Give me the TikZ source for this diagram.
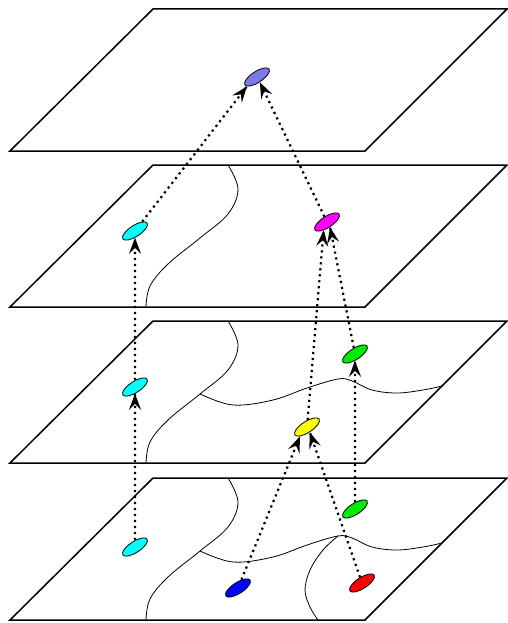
\documentclass[tikz,border=0pt]{standalone}
\usetikzlibrary{shapes.geometric,arrows.meta,decorations.markings}
\definecolor{violetblob}{RGB}{122,122,230}
\definecolor{greenblob}{RGB}{0,235,0}
\definecolor{cyanblob}{RGB}{0,255,255}
\definecolor{magentablob}{RGB}{255,0,255}
\definecolor{yellowblob}{RGB}{255,255,0}
\definecolor{blueblob}{RGB}{0,0,255}
\definecolor{redblob}{RGB}{255,0,0}
\tikzset{
  plane/.style={draw, line width=1.5pt, line join=miter},
  region/.style={draw, line width=0.8pt},
  blob/.style={ellipse, draw, line width=0.8pt, minimum width=29pt, minimum height=11pt, inner sep=0pt, rotate=33},
  link/.style={line width=2.2pt, dash pattern=on 2.2pt off 3.8pt,
    postaction={solid, decorate, decoration={markings,
      mark=at position 1 with {\arrow{Stealth[length=16pt,width=12pt,inset=6pt]}}}}}
}
\begin{document}
\begin{tikzpicture}[x=1pt,y=-1pt]
\useasboundingbox (0,0) rectangle (508,623);
% planes
\foreach \dy in {0,156,312,469}{
  \begin{scope}[shift={(0,\dy)}]
    \draw[plane] (10,151) -- (365,151) -- (507,9) -- (153,9) -- cycle;
  \end{scope}
}
% region boundaries
\foreach \dy in {156,312,469}{
  \begin{scope}[shift={(0,\dy)}]
    \draw[region] plot[smooth, tension=0.6] coordinates {(228,9) (238,33) (228,58) (200,82) (168,108) (150,130) (146,151)};
  \end{scope}
}
\foreach \dy in {312,469}{
  \begin{scope}[shift={(0,\dy)}]
    \draw[region] plot[smooth, tension=0.6] coordinates {(200,82) (233,93) (273,88) (307,76) (338,67) (352,69) (372,78) (397,81) (423,78) (442,74)};
  \end{scope}
}
\begin{scope}[shift={(0,469)}]
  \draw[region] plot[smooth, tension=0.6] coordinates {(338,67) (323,81) (310,101) (305,121) (310,138) (318,151)};
\end{scope}
% blobs
\node[blob, fill=violetblob] (v) at (257,77) {};
\node[blob, fill=cyanblob] (c2) at (135,231) {};
\node[blob, fill=magentablob] (m2) at (327,222) {};
\node[blob, fill=cyanblob] (c3) at (135,387) {};
\node[blob, fill=greenblob] (g3) at (355,354) {};
\node[blob, fill=yellowblob] (y3) at (307,427) {};
\node[blob, fill=cyanblob] (c4) at (135,547) {};
\node[blob, fill=blueblob] (b4) at (238,588) {};
\node[blob, fill=greenblob] (g4) at (355,509) {};
\node[blob, fill=redblob] (r4) at (362,583) {};
% links
\draw[link] (c4) -- (c3);
\draw[link] (c3) -- (c2);
\draw[link] (g4) -- (g3);
\draw[link] (b4) -- (y3.200);
\draw[link] (r4) -- (y3.265);
\draw[link] (y3) -- (m2.215);
\draw[link] (g3) -- (m2.268);
\draw[link] (c2) -- (v.190);
\draw[link] (m2) -- (v.265);
\end{tikzpicture}
\end{document}
